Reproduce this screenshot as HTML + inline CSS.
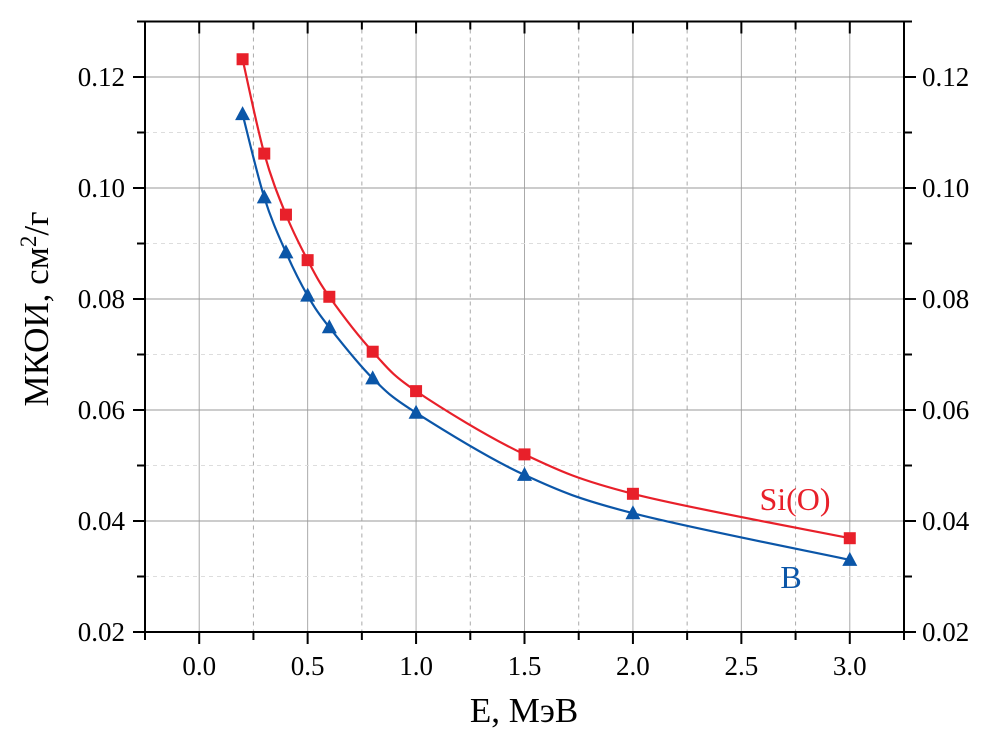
<!DOCTYPE html>
<html><head><meta charset="utf-8"><style>
body{margin:0;background:#fff;}
svg{display:block;font-family:"Liberation Serif",serif;}
</style></head><body>
<svg id="chart" width="984" height="740" xmlns="http://www.w3.org/2000/svg">
<g id="grid"></g>
<g id="axes"></g>
<g id="series"></g>
<text x="795" y="510" font-size="32" fill="#e8202a" text-anchor="middle">Si(O)</text>
<text x="791" y="588" font-size="32" fill="#0b56a8" text-anchor="middle">B</text>
<text x="524" y="722" font-size="35" text-anchor="middle">E, МэВ</text>
<text transform="translate(48,309) rotate(-90)" font-size="35" text-anchor="middle">МКОИ, см<tspan baseline-shift="super" font-size="23">2</tspan>/г</text>
</svg>
<script>
const energies=[0.2,0.3,0.4,0.5,0.6,0.8,1.0,1.5,2.0,3.0];
const siValues=[0.1232,0.1062,0.0952,0.0870,0.0804,0.0705,0.0634,0.0520,0.0449,0.0369];
const bValues=[0.1133,0.0983,0.0884,0.0806,0.0749,0.0657,0.0595,0.0483,0.0414,0.0330];
const xTicks=[0,0.5,1.0,1.5,2.0,2.5,3.0];
const xTickLabels=["0.0","0.5","1.0","1.5","2.0","2.5","3.0"];
const yTicks=[0.02,0.04,0.06,0.08,0.10,0.12];
const yTickLabels=["0.02","0.04","0.06","0.08","0.10","0.12"];
const X0=145,X1=904,Y0=632,Y1=21.5,xmin=-0.25,xmax=3.25,ymin=0.02,ymax=0.13;
const sx=v=>X0+(v-xmin)/(xmax-xmin)*(X1-X0);
const sy=v=>Y0-(v-ymin)/(ymax-ymin)*(Y0-Y1);
const NS="http://www.w3.org/2000/svg";
function mk(tag,parent,attrs){const e=document.createElementNS(NS,tag);for(const k in attrs)e.setAttribute(k,attrs[k]);document.getElementById(parent).appendChild(e);return e;}
for(let v=-0.25;v<=3.26;v+=0.25){if(Math.abs(v-xmin)<1e-6||Math.abs(v-xmax)<1e-6)continue;const major=Math.abs(v*2-Math.round(v*2))<1e-6;
const g=mk('line','grid',{x1:sx(v),x2:sx(v),y1:Y1,y2:Y0,stroke:'#aaa','stroke-width':1,'stroke-dasharray':major?'':'4,4'});
}
for(let v=0.03;v<0.13;v+=0.01){const major=Math.round(v*100)%2===0;
const g=mk('line','grid',{x1:X0,x2:X1,y1:sy(v),y2:sy(v),stroke:major?'#999':'#ddd','stroke-width':1,'stroke-dasharray':major?'':'4,4'});
}
const fr=mk('rect','axes',{x:X0,y:Y1,width:X1-X0,height:Y0-Y1,fill:'none',stroke:'#000','stroke-width':2});

for(let v=-0.25;v<=3.26;v+=0.25){const major=Math.abs(v*2-Math.round(v*2))<1e-6;const L=major?12:8;
mk('line','axes',{x1:sx(v),x2:sx(v),y1:Y0,y2:Y0+L,stroke:'#000','stroke-width':2});
mk('line','axes',{x1:sx(v),x2:sx(v),y1:Y1,y2:Y1+L,stroke:'#000','stroke-width':2});}
for(let v=0.02;v<0.1301;v+=0.01){const major=Math.round(v*100)%2===0;const L=major?12:8;
mk('line','axes',{x1:X0-L,x2:X0,y1:sy(v),y2:sy(v),stroke:'#000','stroke-width':2});
mk('line','axes',{x1:X1,x2:X1+L,y1:sy(v),y2:sy(v),stroke:'#000','stroke-width':2});}
xTicks.forEach((v,i)=>{const t=mk('text','axes',{x:sx(v),y:Y0+43,'font-size':27,'text-anchor':'middle'});t.textContent=xTickLabels[i];
});
yTicks.forEach((v,i)=>{const t=mk('text','axes',{x:X0-20,y:sy(v)+9,'font-size':27,'text-anchor':'end'});t.textContent=yTickLabels[i];

const t2=mk('text','axes',{x:X1+18,y:sy(v)+9,'font-size':27,'text-anchor':'start'});t2.textContent=yTickLabels[i];
});
function spline(xs,ys){const p=xs.map((x,i)=>[sx(x),sy(ys[i])]);let d='M'+p[0][0]+','+p[0][1];
for(let i=0;i<p.length-1;i++){const p0=p[i-1]||p[i],p1=p[i],p2=p[i+1],p3=p[i+2]||p2;
d+=` C${p1[0]+(p2[0]-p0[0])/6},${p1[1]+(p2[1]-p0[1])/6} ${p2[0]-(p3[0]-p1[0])/6},${p2[1]-(p3[1]-p1[1])/6} ${p2[0]},${p2[1]}`;}return d;}
function draw(vals,color,shape,name){
const l=mk('path','series',{d:spline(energies,vals),fill:'none',stroke:color,'stroke-width':2.2});

energies.forEach((e,i)=>{const x=sx(e),y=sy(vals[i]);let m;
if(shape==='sq')m=mk('rect','series',{x:x-6,y:y-6,width:12,height:12,fill:color});
else m=mk('polygon','series',{points:`${x},${y-8} ${x-7.5},${y+6} ${x+7.5},${y+6}`,fill:color});
});}
draw(bValues,'#0b56a8','tri','b-series');
draw(siValues,'#e8202a','sq','si-series');
</script>
</body></html>
